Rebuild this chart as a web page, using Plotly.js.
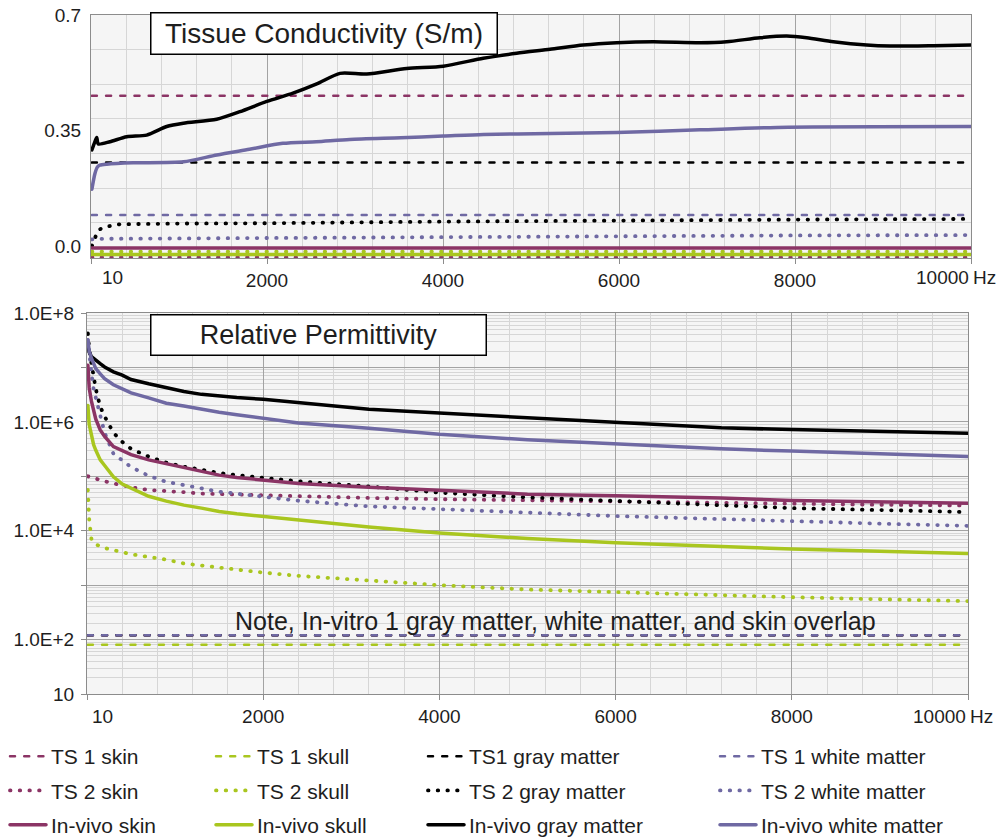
<!DOCTYPE html>
<html>
<head>
<meta charset="utf-8">
<script src="https://cdn.plot.ly/plotly-3.0.1.min.js"></script>
<style>
  html, body { margin: 0; padding: 0; background: #ffffff; }
  #chart { width: 997px; height: 837px; }
  /* round caps turn the short dash segments into round dots */
  .js-line { stroke-linecap: round; }
</style>
</head>
<body>
<div id="chart"></div>
<script>
// ---------- Tissue conductivity (S/m) ----------
const condFlatFreq = [10, 10000];
const condSkinTS1  = [0.455, 0.455];
const condSkullTS1 = [-0.026, -0.026];
const condGrayTS1  = [0.253, 0.253];
const condWhiteTS1 = [0.094, 0.094];

const condFreqTS2  = [10, 45, 80, 160, 330, 1000, 2000, 4000, 6000, 8000, 10000];
const condGrayTS2  = [0.0, 0.021, 0.048, 0.058, 0.066, 0.068, 0.069, 0.074, 0.078, 0.080, 0.082];
const condWhiteTS2 = [0.020, 0.021, 0.022, 0.022, 0.022, 0.023, 0.024, 0.028, 0.030, 0.032, 0.033];
const condSkinTS2  = [-0.034, -0.034];
const condSkullTS2 = [-0.017, -0.017];

const condSkinInVivo  = [-0.006, -0.006];
const condSkullInVivo = [-0.026, -0.026];

const condFreqGrayInVivo = [10, 45, 65, 83, 216, 406, 633, 860, 1049, 1428, 1693, 1997, 2295, 2565, 2830,
  3133, 3588, 4003, 4458, 4837, 5216, 5594, 5974, 6390, 6920, 7224, 7602, 7906, 8133, 8436, 8815, 9080, 9572, 10000];
const condGrayInVivo = [0.291, 0.316, 0.329, 0.309, 0.316, 0.331, 0.336, 0.362, 0.372, 0.384, 0.407, 0.438, 0.463,
  0.491, 0.523, 0.521, 0.538, 0.545, 0.569, 0.584, 0.596, 0.609, 0.616, 0.619, 0.616, 0.619, 0.631, 0.636, 0.631,
  0.619, 0.609, 0.606, 0.607, 0.609];

const condFreqWhiteInVivo = [10, 45, 75, 100, 180, 480, 1050, 1430, 1800, 2180, 2560, 2940, 3520, 4000, 4460,
  5220, 5970, 6920, 7920, 10000];
const condWhiteInVivo = [0.172, 0.22, 0.24, 0.245, 0.248, 0.252, 0.255, 0.276, 0.293, 0.311, 0.316, 0.323, 0.328,
  0.333, 0.338, 0.341, 0.344, 0.352, 0.36, 0.362];

// ---------- Relative permittivity ----------
const permFlatFreq = [10, 10000];
const permSkinTS1  = [120, 120];
const permSkullTS1 = [80, 80];
const permGrayTS1  = [120, 120];
const permWhiteTS1 = [120, 120];

const permFreq = [10, 25, 50, 75, 100, 150, 200, 300, 400, 500, 700, 900, 1100, 1300, 1500, 1700, 2000, 2400,
  3200, 4000, 5000, 6000, 7200, 8000, 9000, 10000];

const permSkinTS2 = [1.0e5, 9.8e4, 9.5e4, 9.3e4, 8.9e4, 8.5e4, 8.1e4, 7.4e4, 6.8e4, 6.3e4, 5.6e4, 5.4e4, 5.1e4,
  4.8e4, 4.7e4, 4.6e4, 4.4e4, 4.2e4, 4.0e4, 3.8e4, 3.6e4, 3.55e4, 3.3e4, 3.15e4, 3.0e4, 2.9e4];
const permSkullTS2 = [5.6e4, 1.6e4, 7.1e3, 6.0e3, 5.6e3, 5.1e3, 4.8e3, 4.4e3, 4.0e3, 3.7e3, 3.3e3, 2.95e3, 2.5e3,
  2.3e3, 2.1e3, 1.9e3, 1.7e3, 1.48e3, 1.2e3, 1.0e3, 830, 740, 650, 600, 550, 510];
const permGrayTS2 = [4.2e7, 2.2e7, 1.2e7, 6.3e6, 4.0e6, 1.9e6, 1.26e6, 6.3e5, 4.3e5, 3.2e5, 2.3e5, 1.78e5, 1.5e5,
  1.32e5, 1.15e5, 1.05e5, 9.3e4, 8.1e4, 6.5e4, 5.0e4, 4.1e4, 3.5e4, 3.0e4, 2.6e4, 2.4e4, 2.2e4];
const permWhiteTS2 = [3.2e7, 1.6e7, 8.0e6, 4.0e6, 2.8e6, 1.2e6, 6.3e5, 2.6e5, 2.0e5, 1.48e5, 1.02e5, 7.9e4, 6.9e4,
  5.9e4, 5.2e4, 4.8e4, 4.2e4, 3.55e4, 2.8e4, 2.45e4, 2.15e4, 1.86e4, 1.62e4, 1.48e4, 1.35e4, 1.23e4];

const permSkinInVivo = [1.1e7, 4.2e6, 2.4e6, 1.6e6, 1.12e6, 7.1e5, 5.4e5, 3.5e5, 2.9e5, 2.5e5, 2.0e5, 1.7e5, 1.41e5,
  1.2e5, 1.05e5, 9.5e4, 8.5e4, 7.4e4, 6.3e4, 5.5e4, 4.7e4, 4.4e4, 4.0e4, 3.6e4, 3.4e4, 3.2e4];
const permSkullInVivo = [2.0e6, 8.9e5, 5.8e5, 3.8e5, 3.0e5, 2.0e5, 1.58e5, 9.8e4, 7.2e4, 6.0e4, 4.3e4, 3.5e4, 2.95e4,
  2.6e4, 2.25e4, 2.05e4, 1.82e4, 1.58e4, 1.17e4, 9.1e3, 7.2e3, 6.0e3, 5.1e3, 4.6e3, 4.2e3, 3.8e3];
const permGrayInVivo = [2.5e7, 1.9e7, 1.58e7, 1.45e7, 1.38e7, 1.17e7, 1.02e7, 8.3e6, 7.2e6, 6.0e6, 5.0e6, 4.2e6,
  3.6e6, 3.2e6, 2.95e6, 2.8e6, 2.6e6, 2.24e6, 1.7e6, 1.45e6, 1.2e6, 1.0e6, 7.8e5, 7.2e5, 6.6e5, 6.2e5];
const permWhiteInVivo = [3.2e7, 2.0e7, 1.48e7, 1.15e7, 9.5e6, 7.6e6, 6.2e6, 4.8e6, 4.0e6, 3.4e6, 2.75e6, 2.2e6,
  1.95e6, 1.7e6, 1.5e6, 1.35e6, 1.17e6, 9.5e5, 7.6e5, 5.9e5, 4.7e5, 3.9e5, 3.2e5, 2.9e5, 2.6e5, 2.3e5];

// ---------- labels ----------
const freqTickVals = [0, 2000, 4000, 6000, 8000, 10000];
const freqTickText = ['', '2000', '4000', '6000', '8000', ''];
const condTickVals = [0, 0.35, 0.7];
const condTickText = ['0.0', '0.35', '0.7'];
const permTickVals = [10, 1e2, 1e3, 1e4, 1e5, 1e6, 1e7, 1e8];
const permTickText = ['10', '1.0E+2', '', '1.0E+4', '', '1.0E+6', '', '1.0E+8'];

// ---------- styling ----------
const FONT = 'Liberation Sans, Arial, Helvetica, sans-serif';
const TEXT = '#1e1e1e';
const TICK_SIZE = 19;
const C_SKIN = '#8b3465', C_SKULL = '#a9c61f', C_GRAY = '#000000', C_WHITE = '#6f69a3';
const STYLE_TS1  = { width: 2.5, dash: '5px,9.2px' };
const STYLE_TS2  = { width: 3.8, dash: '0.5px,9.2px' };
const STYLE_VIVO = { width: 3.5, dash: 'solid' };

const traces = [];
function addSeries(name, legendId, color, style, cx, cy, px, py, smooth) {
  const line = { color: color, width: style.width, dash: style.dash };
  if (smooth) { line.shape = 'spline'; line.smoothing = 0.7; }
  traces.push({
    type: 'scatter', mode: 'lines', name: name, legendgroup: name, showlegend: false,
    x: cx, y: cy, xaxis: 'x', yaxis: 'y', line: line, hoverinfo: 'x+y+name'
  });
  traces.push({
    type: 'scatter', mode: 'lines', name: name, legendgroup: name, legend: legendId,
    x: px, y: py, xaxis: 'x2', yaxis: 'y2',
    line: { color: color, width: style.width, dash: style.dash }, hoverinfo: 'x+y+name'
  });
}

addSeries('TS 1 skin', 'legend', C_SKIN, STYLE_TS1, condFlatFreq, condSkinTS1, permFlatFreq, permSkinTS1);
addSeries('TS 1 skull', 'legend2', C_SKULL, STYLE_TS1, condFlatFreq, condSkullTS1, permFlatFreq, permSkullTS1);
addSeries('TS1 gray matter', 'legend3', C_GRAY, STYLE_TS1, condFlatFreq, condGrayTS1, permFlatFreq, permGrayTS1);
addSeries('TS 1 white matter', 'legend4', C_WHITE, STYLE_TS1, condFlatFreq, condWhiteTS1, permFlatFreq, permWhiteTS1);
addSeries('TS 2 skin', 'legend', C_SKIN, STYLE_TS2, condFlatFreq, condSkinTS2, permFreq, permSkinTS2);
addSeries('TS 2 skull', 'legend2', C_SKULL, STYLE_TS2, condFlatFreq, condSkullTS2, permFreq, permSkullTS2);
addSeries('TS 2 gray matter', 'legend3', C_GRAY, STYLE_TS2, condFreqTS2, condGrayTS2, permFreq, permGrayTS2);
addSeries('TS 2 white matter', 'legend4', C_WHITE, STYLE_TS2, condFreqTS2, condWhiteTS2, permFreq, permWhiteTS2);
addSeries('In-vivo skin', 'legend', C_SKIN, STYLE_VIVO, condFlatFreq, condSkinInVivo, permFreq, permSkinInVivo);
addSeries('In-vivo skull', 'legend2', C_SKULL, STYLE_VIVO, condFlatFreq, condSkullInVivo, permFreq, permSkullInVivo);
addSeries('In-vivo gray matter', 'legend3', C_GRAY, STYLE_VIVO, condFreqGrayInVivo, condGrayInVivo, permFreq, permGrayInVivo, true);
addSeries('In-vivo white matter', 'legend4', C_WHITE, STYLE_VIVO, condFreqWhiteInVivo, condWhiteInVivo, permFreq, permWhiteInVivo, true);

// ---------- geometry (pixels on a 997 x 837 page) ----------
const W = 997, H = 837;
const px = v => v / W;
const py = v => (H - v) / H;

const GRID_MAJOR = '#a3a3a3', GRID_MINOR = '#d6d6d6', AXIS_LINE = '#8c8c8c';

// minor grid positions for the log axis: 2..9 within every decade
const logMinor = [];
for (let e = 1; e < 8; e++) for (let m = 2; m <= 9; m++) logMinor.push(m * Math.pow(10, e));

const freqAxis = (dom, anchor) => ({
  domain: dom, anchor: anchor, range: [0, 10000], autorange: false,
  tickmode: 'array', tickvals: freqTickVals, ticktext: freqTickText,
  ticks: 'outside', ticklen: 5, tickcolor: AXIS_LINE, tickwidth: 1,
  showgrid: true, gridcolor: GRID_MAJOR, gridwidth: 1,
  minor: { dtick: 400, tick0: 0, showgrid: true, gridcolor: GRID_MINOR, gridwidth: 1, ticks: '' },
  showline: true, linecolor: AXIS_LINE, linewidth: 1, mirror: true,
  zeroline: false, automargin: false, fixedrange: true,
  tickfont: { family: FONT, size: TICK_SIZE, color: TEXT }
});

const legendBase = (x) => ({
  x: px(x), y: py(736), xref: 'paper', yref: 'paper', xanchor: 'left', yanchor: 'top',
  orientation: 'v', traceorder: 'grouped', tracegroupgap: 4, bgcolor: 'rgba(0,0,0,0)',
  font: { family: FONT, size: 21, color: TEXT }, itemwidth: 36
});

const axisNote = (text, xref, yref, x, xanchor, xshift, yshift) => ({
  text: text, xref: xref, yref: yref, x: x, y: 0, xanchor: xanchor, yanchor: 'middle',
  xshift: xshift, yshift: yshift, showarrow: false,
  font: { family: FONT, size: TICK_SIZE, color: TEXT }
});

const layout = {
  width: W, height: H,
  margin: { l: 0, r: 0, t: 0, b: 0, pad: 0, autoexpand: false },
  paper_bgcolor: '#ffffff', plot_bgcolor: '#f5f5f5',
  font: { family: FONT, color: TEXT },
  xaxis: freqAxis([px(91), px(971)], 'y'),
  yaxis: {
    domain: [py(258), py(15)], anchor: 'x', range: [-0.0364, 0.7], autorange: false,
    tickmode: 'array', tickvals: condTickVals, ticktext: condTickText,
    ticks: '', showgrid: false, ticklabelstandoff: 5,
    minor: { tick0: -0.035, dtick: 0.105, showgrid: true, gridcolor: GRID_MINOR, gridwidth: 1, ticks: '' },
    showline: true, linecolor: AXIS_LINE, linewidth: 1, mirror: true,
    zeroline: false, automargin: false, fixedrange: true,
    tickfont: { family: FONT, size: TICK_SIZE, color: TEXT }
  },
  xaxis2: freqAxis([px(87), px(968)], 'y2'),
  yaxis2: {
    domain: [py(694), py(313)], anchor: 'x2', type: 'log', range: [1, 8], autorange: false,
    tickmode: 'array', tickvals: permTickVals, ticktext: permTickText,
    ticks: 'outside', ticklen: 5, tickcolor: AXIS_LINE, ticklabelstandoff: 3,
    showgrid: true, gridcolor: GRID_MAJOR, gridwidth: 1,
    minor: { tickmode: 'array', tickvals: logMinor, showgrid: true, gridcolor: GRID_MINOR, gridwidth: 1, ticks: '' },
    showline: true, linecolor: AXIS_LINE, linewidth: 1, mirror: true,
    zeroline: false, automargin: false, fixedrange: true,
    tickfont: { family: FONT, size: TICK_SIZE, color: TEXT }
  },
  showlegend: true,
  legend: legendBase(5),
  legend2: legendBase(211),
  legend3: legendBase(423),
  legend4: legendBase(715),
  annotations: [
    {
      text: 'Tissue Conductivity (S/m)', xref: 'paper', yref: 'paper', x: px(323.5), y: py(34),
      xanchor: 'center', yanchor: 'middle', showarrow: false, width: 343, height: 38,
      bgcolor: '#ffffff', bordercolor: '#000000', borderwidth: 1.5, borderpad: 1,
      font: { family: FONT, size: 28, color: TEXT }
    },
    {
      text: 'Relative Permittivity', xref: 'paper', yref: 'paper', x: px(318), y: py(334.5),
      xanchor: 'center', yanchor: 'middle', showarrow: false, width: 332, height: 37,
      bgcolor: '#ffffff', bordercolor: '#000000', borderwidth: 1.5, borderpad: 1,
      font: { family: FONT, size: 27, color: TEXT }
    },
    {
      text: 'Note, In-vitro 1 gray matter, white matter, and skin overlap',
      xref: 'paper', yref: 'paper', x: px(555), y: py(621), xanchor: 'center', yanchor: 'middle',
      showarrow: false, font: { family: FONT, size: 25, color: TEXT }
    },
    axisNote('10', 'x', 'y domain', 10, 'center', 21, -19),
    axisNote('10000', 'x', 'y domain', 10000, 'right', 0, -19),
    axisNote('Hz', 'x', 'y domain', 10000, 'left', 0, -19),
    axisNote('10', 'x2', 'y2 domain', 10, 'center', 15, -22),
    axisNote('10000', 'x2', 'y2 domain', 10000, 'right', 0, -22),
    axisNote('Hz', 'x2', 'y2 domain', 10000, 'left', 0, -22)
  ]
};

Plotly.newPlot('chart', traces, layout, { displayModeBar: false, staticPlot: true });
</script>
</body>
</html>
